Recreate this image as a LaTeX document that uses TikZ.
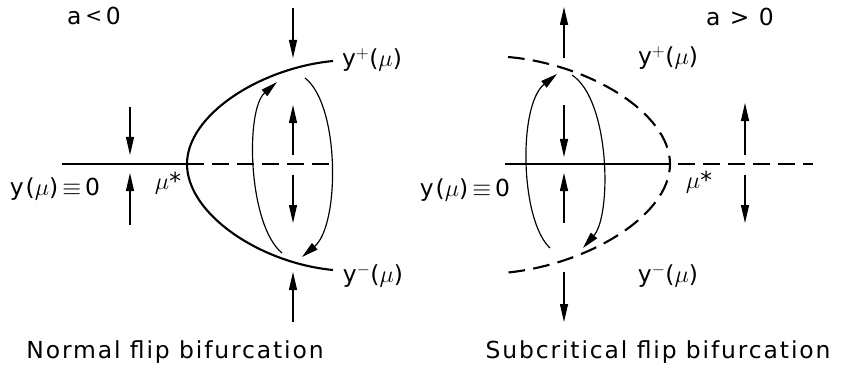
\documentclass[tikz,border=0pt]{standalone}
\usepackage{fontspec}
\setmainfont{DejaVu Sans}[LetterSpace=8]
\usetikzlibrary{arrows.meta}

\begin{document}
\begin{tikzpicture}[x=0.03cm, y=-0.03cm, every node/.style={font=\fontsize{20}{24}\selectfont, inner sep=0pt}]
    \tikzset{
      branch/.style={line width=1.8pt},
      unstable/.style={branch, dash pattern=on 0.5cm off 0.25cm},
      flowarrow/.style={line width=1pt, -{Triangle[length=5.4mm, width=2.4mm]}},
      orbit/.style={line width=1pt, -{Triangle[length=5mm, width=2.5mm]}}}
    \useasboundingbox (0,0) rectangle (845,369);
    % normal flip, a < 0
    \draw[branch] (62,164) -- (187,164);
    \draw[unstable] (187,164) -- (333,164);
    \draw[branch] (333,61) .. controls (260,68) and (187,115) .. (187,164)
                           .. controls (187,214) and (260,263) .. (333,270);
    \draw[orbit] (282,253) .. controls (248,225) and (245,110) .. (277,82);
    \draw[orbit] (305,78) .. controls (340,105) and (340,225) .. (302,257);
    \foreach \x/\ya/\yb in {293/8/58, 293/322/272, 293/155/105, 293/175/223,
                            130/107/155, 130/225/173}
      \draw[flowarrow] (\x,\ya) -- (\x,\yb);
    \node (aneg) at (94,16) {a\,\raisebox{0.08em}{\fontsize{17}{20}\selectfont<}\,0};
    \node (ypl) at (372,60) {y$^+$($\mu$)};
    \node (ymil) at (373,276) {y$^-$($\mu$)};
    \node (zerol) at (55,189) {y($\mu$)$\,\equiv\,$0};
    \node (mul) at (168,183) {$\mu$*};
    \node (capl) at (175,352) {Normal flip bifurcation};
    % subcritical flip, a > 0
    \draw[branch] (505,164) -- (670,164);
    \draw[unstable] (678,164) -- (813,164);
    \draw[unstable] (508,57) .. controls (589,64) and (670,113) .. (670,164)
                             .. controls (670,216) and (586,266) .. (503,273);
    \draw[orbit] (550,248) .. controls (520,220) and (518,105) .. (557,74);
    \draw[orbit] (572,75) .. controls (610,100) and (612,215) .. (583,248);
    \foreach \x/\ya/\yb in {564/58/7, 564/272/322, 564/105/157, 564/223/173,
                            745/155/103, 745/175/223}
      \draw[flowarrow] (\x,\ya) -- (\x,\yb);
    \node (apos) at (740,17) {a > 0};
    \node (ypr) at (668,58) {y$^+$($\mu$)};
    \node (ymir) at (668,276) {y$^-$($\mu$)};
    \node (zeror) at (465,190) {y($\mu$)$\,\equiv\,$0};
    \node (mur) at (699,182) {$\mu$*};
    \node (capr) at (658,352) {Subcritical flip bifurcation};
  \end{tikzpicture}
\end{document}
